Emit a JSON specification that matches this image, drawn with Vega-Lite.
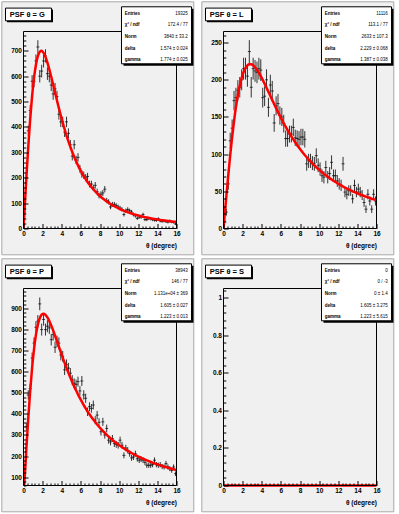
{
"$schema":"https://vega.github.io/schema/vega-lite/v6.json",
"background":"#ffffff",
"padding":{"left":0.5,"top":0.5,"right":0,"bottom":0},
"columns":2,
"spacing":{"row":60,"column":47},
"bounds":"flush",
"config":{
 "view":{"stroke":"#000","strokeWidth":1},
 "font":"Liberation Sans",
 "axis":{"domain":false,"grid":false,"labelFont":"Liberation Sans","labelFontWeight":"bold","labelFontSize":6.5,"labelColor":"#000","tickColor":"#000","tickWidth":1,"titleFont":"Liberation Sans","titleFontWeight":"bold","titleFontSize":6.5,"titleColor":"#000","labelOverlap":false,"labelFlush":false,"labelBound":false,"zindex":1}
},
"datasets":{
"stats":[
{"p":"G","title":"PSF θ = G","keys":"Entries\nχ² / ndf\nNorm\ndelta\ngamma","vals":"19325\n172.4 / 77\n3840 ± 33.2\n1.574 ± 0.024\n1.774 ± 0.025"},
{"p":"L","title":"PSF θ = L","keys":"Entries\nχ² / ndf\nNorm\ndelta\ngamma","vals":"11116\n113.1 / 77\n2633 ± 107.3\n2.229 ± 0.068\n1.387 ± 0.038"},
{"p":"P","title":"PSF θ = P","keys":"Entries\nχ² / ndf\nNorm\ndelta\ngamma","vals":"38943\n146 / 77\n1.131e+04 ± 369\n1.605 ± 0.027\n1.223 ± 0.013"},
{"p":"S","title":"PSF θ = S","keys":"Entries\nχ² / ndf\nNorm\ndelta\ngamma","vals":"0\n0 / -3\n0 ± 1.4\n1.605 ± 3.275\n1.223 ± 5.615"}
],
"G":[
{"t":0,"f":0},
{"t":0.1,"n":65,"e":8.1,"f":67.7},{"t":0.3,"n":200,"e":14.1,"f":199.8},{"t":0.5,"n":385,"e":19.6,"f":322.6},{"t":0.7,"n":465,"e":21.6,"f":431.1},{"t":0.9,"n":580,"e":24.1,"f":521.9},
{"t":1.1,"n":580,"e":24.1,"f":593.3},{"t":1.3,"n":660,"e":25.7,"f":645.2},{"t":1.5,"n":715,"e":26.7,"f":678.7},{"t":1.7,"n":600,"e":24.5,"f":696.1},{"t":1.9,"n":620,"e":24.9,"f":699.7},
{"t":2.1,"n":660,"e":25.7,"f":692.1},{"t":2.3,"n":680,"e":26.1,"f":676.1},{"t":2.5,"n":610,"e":24.7,"f":653.8},{"t":2.7,"n":600,"e":24.5,"f":627.0},{"t":2.9,"n":565,"e":23.8,"f":597.6},
{"t":3.1,"n":530,"e":23.0,"f":566.8},{"t":3.3,"n":550,"e":23.5,"f":535.5},{"t":3.5,"n":520,"e":22.8,"f":504.5},{"t":3.7,"n":450,"e":21.2,"f":474.3},{"t":3.9,"n":420,"e":20.5,"f":445.1},
{"t":4.1,"n":420,"e":20.5,"f":417.3},{"t":4.3,"n":380,"e":19.5,"f":391.0},{"t":4.5,"n":420,"e":20.5,"f":366.1},{"t":4.7,"n":375,"e":19.4,"f":343.0},{"t":4.9,"n":330,"e":18.2,"f":321.4},
{"t":5.1,"n":285,"e":16.9,"f":301.1},{"t":5.3,"n":330,"e":18.2,"f":282.3},{"t":5.5,"n":270,"e":16.4,"f":264.7},{"t":5.7,"n":280,"e":16.7,"f":248.5},{"t":5.9,"n":235,"e":15.3,"f":233.5},
{"t":6.1,"n":215,"e":14.7,"f":219.5},{"t":6.3,"n":210,"e":14.5,"f":206.5},{"t":6.5,"n":200,"e":14.1,"f":194.5},{"t":6.7,"n":205,"e":14.3,"f":183.4},{"t":6.9,"n":175,"e":13.2,"f":173.0},
{"t":7.1,"n":175,"e":13.2,"f":163.4},{"t":7.3,"n":160,"e":12.6,"f":154.4},{"t":7.5,"n":170,"e":13.0,"f":146.0},{"t":7.7,"n":145,"e":12.0,"f":138.2},{"t":7.9,"n":130,"e":11.4,"f":131.0},
{"t":8.1,"n":135,"e":11.6,"f":124.2},{"t":8.3,"n":140,"e":11.8,"f":117.9},{"t":8.5,"n":155,"e":12.4,"f":112.0},{"t":8.7,"n":110,"e":10.5,"f":106.5},{"t":8.9,"n":105,"e":10.2,"f":101.4},
{"t":9.1,"n":85,"e":9.2,"f":96.5},{"t":9.3,"n":95,"e":9.7,"f":91.9},{"t":9.5,"n":95,"e":9.7,"f":87.7},{"t":9.7,"n":90,"e":9.5,"f":83.7},{"t":9.9,"n":85,"e":9.2,"f":79.9},
{"t":10.1,"n":80,"e":8.9,"f":76.4},{"t":10.3,"n":75,"e":8.7,"f":73.1},{"t":10.5,"n":55,"e":7.4,"f":70.0},{"t":10.7,"n":70,"e":8.4,"f":67.0},{"t":10.9,"n":75,"e":8.7,"f":64.2},
{"t":11.1,"n":70,"e":8.4,"f":61.5},{"t":11.3,"n":65,"e":8.1,"f":59.1},{"t":11.5,"n":55,"e":7.4,"f":56.7},{"t":11.7,"n":50,"e":7.1,"f":54.5},{"t":11.9,"n":40,"e":6.3,"f":52.4},
{"t":12.1,"n":45,"e":6.7,"f":50.4},{"t":12.3,"n":45,"e":6.7,"f":48.5},{"t":12.5,"n":55,"e":7.4,"f":46.6},{"t":12.7,"n":35,"e":5.9,"f":44.9},{"t":12.9,"n":35,"e":5.9,"f":43.3},
{"t":13.1,"n":40,"e":6.3,"f":41.7},{"t":13.3,"n":38,"e":6.2,"f":40.2},{"t":13.5,"n":35,"e":5.9,"f":38.8},{"t":13.7,"n":33,"e":5.7,"f":37.5},{"t":13.9,"n":32,"e":5.7,"f":36.2},
{"t":14.1,"n":38,"e":6.2,"f":35.0},{"t":14.3,"n":30,"e":5.5,"f":33.8},{"t":14.5,"n":28,"e":5.3,"f":32.7},{"t":14.7,"n":30,"e":5.5,"f":31.7},{"t":14.9,"n":27,"e":5.2,"f":30.6},
{"t":15.1,"n":25,"e":5.0,"f":29.7},{"t":15.3,"n":30,"e":5.5,"f":28.7},{"t":15.5,"n":26,"e":5.1,"f":27.8},{"t":15.7,"n":24,"e":4.9,"f":27.0},{"t":15.9,"n":18,"e":4.2,"f":26.2},
{"t":16,"f":25.8}
],
"L":[
{"t":0,"f":0},
{"t":0.1,"n":10,"e":3.2,"f":14.7},{"t":0.3,"n":22,"e":4.7,"f":43.8},{"t":0.5,"n":60,"e":7.7,"f":71.9},{"t":0.7,"n":118,"e":10.9,"f":98.3},{"t":0.9,"n":135,"e":11.6,"f":122.6},
{"t":1.1,"n":172,"e":13.1,"f":144.3},{"t":1.3,"n":176,"e":13.3,"f":163.2},{"t":1.5,"n":186,"e":13.6,"f":179.3},{"t":1.7,"n":190,"e":13.8,"f":192.4},{"t":1.9,"n":200,"e":14.1,"f":202.8},
{"t":2.1,"n":215,"e":14.7,"f":210.6},{"t":2.3,"n":215,"e":14.7,"f":216.0},{"t":2.5,"n":205,"e":14.3,"f":219.4},{"t":2.7,"n":238,"e":15.4,"f":220.9},{"t":2.9,"n":190,"e":13.8,"f":220.8},
{"t":3.1,"n":215,"e":14.7,"f":219.4},{"t":3.3,"n":212,"e":14.6,"f":216.9},{"t":3.5,"n":210,"e":14.5,"f":213.6},{"t":3.7,"n":215,"e":14.7,"f":209.5},{"t":3.9,"n":213,"e":14.6,"f":204.9},
{"t":4.1,"n":176,"e":13.3,"f":200.0},{"t":4.3,"n":178,"e":13.3,"f":194.7},{"t":4.5,"n":200,"e":14.1,"f":189.3},{"t":4.7,"n":163,"e":12.8,"f":183.8},{"t":4.9,"n":193,"e":13.9,"f":178.3},
{"t":5.1,"n":185,"e":13.6,"f":172.7},{"t":5.3,"n":142,"e":11.9,"f":167.3},{"t":5.5,"n":165,"e":12.8,"f":161.9},{"t":5.7,"n":168,"e":13.0,"f":156.6},{"t":5.9,"n":152,"e":12.3,"f":151.5},
{"t":6.1,"n":150,"e":12.2,"f":146.5},{"t":6.3,"n":141,"e":11.9,"f":141.6},{"t":6.5,"n":121,"e":11.0,"f":137.0},{"t":6.7,"n":121,"e":11.0,"f":132.4},{"t":6.9,"n":127,"e":11.3,"f":128.1},
{"t":7.1,"n":127,"e":11.3,"f":123.9},{"t":7.3,"n":136,"e":11.7,"f":119.8},{"t":7.5,"n":122,"e":11.0,"f":116.0},{"t":7.7,"n":121,"e":11.0,"f":112.3},{"t":7.9,"n":120,"e":11.0,"f":108.7},
{"t":8.1,"n":123,"e":11.1,"f":105.2},{"t":8.3,"n":123,"e":11.1,"f":102.0},{"t":8.5,"n":120,"e":11.0,"f":98.8},{"t":8.7,"n":87,"e":9.3,"f":95.8},{"t":8.9,"n":91,"e":9.5,"f":92.9},
{"t":9.1,"n":91,"e":9.5,"f":90.1},{"t":9.3,"n":88,"e":9.4,"f":87.4},{"t":9.5,"n":87,"e":9.3,"f":84.8},{"t":9.7,"n":98,"e":9.9,"f":82.4},{"t":9.9,"n":85,"e":9.2,"f":80.0},
{"t":10.1,"n":80,"e":8.9,"f":77.8},{"t":10.3,"n":71,"e":8.4,"f":75.6},{"t":10.5,"n":69,"e":8.3,"f":73.5},{"t":10.7,"n":82,"e":9.1,"f":71.5},{"t":10.9,"n":69,"e":8.3,"f":69.5},
{"t":11.1,"n":74,"e":8.6,"f":67.7},{"t":11.3,"n":89,"e":9.4,"f":65.9},{"t":11.5,"n":71,"e":8.4,"f":64.2},{"t":11.7,"n":71,"e":8.4,"f":62.5},{"t":11.9,"n":64,"e":8.0,"f":60.9},
{"t":12.1,"n":60,"e":7.7,"f":59.4},{"t":12.3,"n":58,"e":7.6,"f":57.9},{"t":12.5,"n":87,"e":9.3,"f":56.5},{"t":12.7,"n":49,"e":7.0,"f":55.1},{"t":12.9,"n":46,"e":6.8,"f":53.8},
{"t":13.1,"n":51,"e":7.1,"f":52.5},{"t":13.3,"n":51,"e":7.1,"f":51.3},{"t":13.5,"n":40,"e":6.3,"f":50.1},{"t":13.7,"n":58,"e":7.6,"f":48.9},{"t":13.9,"n":49,"e":7.0,"f":47.8},
{"t":14.1,"n":53,"e":7.3,"f":46.7},{"t":14.3,"n":49,"e":7.0,"f":45.7},{"t":14.5,"n":45,"e":6.7,"f":44.7},{"t":14.7,"n":35,"e":5.9,"f":43.7},{"t":14.9,"n":26,"e":5.1,"f":42.8},
{"t":15.1,"n":46,"e":6.8,"f":41.9},{"t":15.3,"n":37,"e":6.1,"f":41.0},{"t":15.5,"n":26,"e":5.1,"f":40.1},{"t":15.7,"n":46,"e":6.8,"f":39.3},{"t":15.9,"n":37,"e":6.1,"f":38.5},
{"t":16,"f":38.1}
],
"P":[
{"t":0,"f":0},
{"t":0.1,"n":120,"e":11.0,"f":79.6},{"t":0.3,"n":340,"e":18.4,"f":235.0},{"t":0.5,"n":490,"e":22.1,"f":380.1},{"t":0.7,"n":520,"e":22.8,"f":509.2},{"t":0.9,"n":665,"e":25.8,"f":618.8},
{"t":1.1,"n":736,"e":27.1,"f":707.4},{"t":1.3,"n":811,"e":28.5,"f":775.1},{"t":1.5,"n":840,"e":29.0,"f":823.1},{"t":1.7,"n":922,"e":30.4,"f":854.1},{"t":1.9,"n":800,"e":28.3,"f":870.5},
{"t":2.1,"n":848,"e":29.1,"f":875.0},{"t":2.3,"n":800,"e":28.3,"f":870.1},{"t":2.5,"n":816,"e":28.6,"f":858.0},{"t":2.7,"n":808,"e":28.4,"f":840.7},{"t":2.9,"n":752,"e":27.4,"f":819.6},
{"t":3.1,"n":776,"e":27.9,"f":796.1},{"t":3.3,"n":716,"e":26.8,"f":770.9},{"t":3.5,"n":744,"e":27.3,"f":744.9},{"t":3.7,"n":736,"e":27.1,"f":718.7},{"t":3.9,"n":680,"e":26.1,"f":692.6},
{"t":4.1,"n":673,"e":25.9,"f":667.0},{"t":4.3,"n":609,"e":24.7,"f":642.0},{"t":4.5,"n":633,"e":25.2,"f":617.8},{"t":4.7,"n":617,"e":24.8,"f":594.4},{"t":4.9,"n":593,"e":24.4,"f":572.1},
{"t":5.1,"n":560,"e":23.7,"f":550.6},{"t":5.3,"n":545,"e":23.3,"f":530.2},{"t":5.5,"n":540,"e":23.2,"f":510.7},{"t":5.7,"n":553,"e":23.5,"f":492.2},{"t":5.9,"n":509,"e":22.6,"f":474.5},
{"t":6.1,"n":556,"e":23.6,"f":457.7},{"t":6.3,"n":490,"e":22.1,"f":441.7},{"t":6.5,"n":474,"e":21.8,"f":426.5},{"t":6.7,"n":410,"e":20.2,"f":412.1},{"t":6.9,"n":434,"e":20.8,"f":398.4},
{"t":7.1,"n":426,"e":20.6,"f":385.3},{"t":7.3,"n":442,"e":21.0,"f":372.9},{"t":7.5,"n":370,"e":19.2,"f":361.0},{"t":7.7,"n":394,"e":19.8,"f":349.7},{"t":7.9,"n":360,"e":19.0,"f":339.0},
{"t":8.1,"n":315,"e":17.7,"f":328.7},{"t":8.3,"n":362,"e":19.0,"f":319.0},{"t":8.5,"n":300,"e":17.3,"f":309.7},{"t":8.7,"n":331,"e":18.2,"f":300.7},{"t":8.9,"n":275,"e":16.6,"f":292.2},
{"t":9.1,"n":267,"e":16.3,"f":284.1},{"t":9.3,"n":283,"e":16.8,"f":276.3},{"t":9.5,"n":259,"e":16.1,"f":268.9},{"t":9.7,"n":255,"e":16.0,"f":261.8},{"t":9.9,"n":251,"e":15.8,"f":254.9},
{"t":10.1,"n":275,"e":16.6,"f":248.4},{"t":10.3,"n":251,"e":15.8,"f":242.2},{"t":10.5,"n":203,"e":14.2,"f":236.1},{"t":10.7,"n":238,"e":15.4,"f":230.3},{"t":10.9,"n":227,"e":15.1,"f":224.7},
{"t":11.1,"n":211,"e":14.5,"f":219.4},{"t":11.3,"n":191,"e":13.8,"f":214.2},{"t":11.5,"n":195,"e":14.0,"f":209.3},{"t":11.7,"n":211,"e":14.5,"f":204.5},{"t":11.9,"n":187,"e":13.7,"f":200.0},
{"t":12.1,"n":180,"e":13.4,"f":195.5},{"t":12.3,"n":185,"e":13.6,"f":191.2},{"t":12.5,"n":180,"e":13.4,"f":187.1},{"t":12.7,"n":170,"e":13.0,"f":183.2},{"t":12.9,"n":156,"e":12.5,"f":179.3},
{"t":13.1,"n":156,"e":12.5,"f":175.6},{"t":13.3,"n":156,"e":12.5,"f":172.0},{"t":13.5,"n":159,"e":12.6,"f":168.5},{"t":13.7,"n":180,"e":13.4,"f":165.2},{"t":13.9,"n":159,"e":12.6,"f":162.0},
{"t":14.1,"n":156,"e":12.5,"f":158.8},{"t":14.3,"n":159,"e":12.6,"f":155.7},{"t":14.5,"n":150,"e":12.2,"f":152.8},{"t":14.7,"n":148,"e":12.2,"f":150.0},{"t":14.9,"n":164,"e":12.8,"f":147.2},
{"t":15.1,"n":148,"e":12.2,"f":144.6},{"t":15.3,"n":140,"e":11.8,"f":142.0},{"t":15.5,"n":132,"e":11.5,"f":139.4},{"t":15.7,"n":148,"e":12.2,"f":136.9},{"t":15.9,"n":116,"e":10.8,"f":134.6},
{"t":16,"f":133.4}
],
"S":[{"t":0,"f":0},{"t":16,"f":0}]
},
"concat":[
{"width":153,"height":197,"resolve":{"scale":{"x":"independent","y":"independent"}},
 "layer":[
  {"data":{"name":"stats"},"transform":[{"filter":"datum.p == 'G'"}],"mark":{"type":"rect","fill":"#f0f0f0","stroke":"#a8a8a8","strokeWidth":1},"encoding":{"x":{"datum":-0.1418,"type":"quantitative","scale":{"domain":[0,1],"nice":false},"axis":null},"x2":{"datum":1.113},"y":{"datum":1.1508,"type":"quantitative","scale":{"domain":[0,1],"nice":false},"axis":null},"y2":{"datum":-0.1335}}},
  {"data":{"name":"G"},"resolve":{"axis":{"x":"independent","y":"independent"}},"layer":[
   {"transform":[{"filter":"isValid(datum.n)"}],"mark":{"type":"errorbar","color":"#333","thickness":1},
    "encoding":{"x":{"field":"t","type":"quantitative","axis":null},"y":{"field":"n","type":"quantitative","axis":null},"yError":{"field":"e"}}},
   {"transform":[{"filter":"isValid(datum.n)"}],"mark":{"type":"tick","orient":"horizontal","color":"#000","size":3,"thickness":1},
    "encoding":{"x":{"field":"t","type":"quantitative","axis":null},"y":{"field":"n","type":"quantitative","axis":null}}},
   {"mark":{"type":"line","color":"#ff0000","strokeWidth":2.5,"clip":true,"interpolate":"monotone"},
    "encoding":{
     "x":{"field":"t","type":"quantitative","scale":{"domain":[0,16],"nice":false},"axis":{"zindex":1,"orient":"bottom","title":"θ (degree)","titleAnchor":"end","titlePadding":3,"labelPadding":7,"labelOverlap":false,"values":[0,0.4,0.8,1.2,1.6,2,2.4,2.8,3.2,3.6,4,4.4,4.8,5.2,5.6,6,6.4,6.8,7.2,7.6,8,8.4,8.8,9.2,9.6,10,10.4,10.8,11.2,11.6,12,12.4,12.8,13.2,13.6,14,14.4,14.8,15.2,15.6,16],"labelExpr":"datum.value % 2 == 0 ? format(datum.value, '~g') : ''","tickSize":{"condition":{"test":"datum.value % 2 == 0","value":-5},"value":-2.5}}},
     "y":{"field":"f","type":"quantitative","scale":{"domain":[0,776],"nice":false,"zero":false},"axis":{"zindex":1,"orient":"left","title":null,"labelPadding":6.5,"labelOverlap":false,"values":[0,20,40,60,80,100,120,140,160,180,200,220,240,260,280,300,320,340,360,380,400,420,440,460,480,500,520,540,560,580,600,620,640,660,680,700,720,740,760],"labelExpr":"datum.value % 100 == 0 ? format(datum.value, '~g') : ''","tickSize":{"condition":{"test":"datum.value % 100 == 0","value":-4.5},"value":-2.3}}}}}
  ]},
  {"data":{"name":"stats"},"transform":[{"filter":"datum.p == 'G'"}],"layer":[
   {"mark":{"type":"rect","filled":false,"stroke":"#000","strokeWidth":1},"encoding":{"x":{"datum":0,"type":"quantitative","scale":{"domain":[0,1],"nice":false},"axis":null},"x2":{"datum":1},"y":{"datum":0,"type":"quantitative","scale":{"domain":[0,1],"nice":false},"axis":null},"y2":{"datum":1}}},
   {"mark":{"type":"rect","fill":"#000","xOffset":1.5,"x2Offset":1.5,"yOffset":1.5,"y2Offset":1.5},"encoding":{"x":{"datum":-0.1176,"type":"quantitative"},"x2":{"datum":0.183},"y":{"datum":1.1188,"type":"quantitative"},"y2":{"datum":1.0543}}},
   {"mark":{"type":"rect","fill":"#fff","stroke":"#000","strokeWidth":1},"encoding":{"x":{"datum":-0.1176,"type":"quantitative"},"x2":{"datum":0.183},"y":{"datum":1.1188,"type":"quantitative"},"y2":{"datum":1.0543}}},
   {"mark":{"type":"text","align":"left","baseline":"middle","fontSize":7.5,"fontWeight":"bold","font":"Liberation Sans","color":"#000"},"encoding":{"x":{"datum":-0.0895,"type":"quantitative"},"y":{"datum":1.0848,"type":"quantitative"},"text":{"field":"title"}}},
   {"mark":{"type":"rect","fill":"#000","xOffset":2,"x2Offset":2,"yOffset":2,"y2Offset":2},"encoding":{"x":{"datum":0.6405,"type":"quantitative"},"x2":{"datum":1.098},"y":{"datum":1.1254,"type":"quantitative"},"y2":{"datum":0.836}}},
   {"mark":{"type":"rect","fill":"#fff","stroke":"#000","strokeWidth":1},"encoding":{"x":{"datum":0.6405,"type":"quantitative"},"x2":{"datum":1.098},"y":{"datum":1.1254,"type":"quantitative"},"y2":{"datum":0.836}}},
   {"mark":{"type":"text","align":"left","baseline":"top","fontSize":4.5,"fontWeight":"bold","font":"Liberation Sans","lineBreak":"\n","lineHeight":11.6,"color":"#000"},"encoding":{"x":{"datum":0.662,"type":"quantitative"},"y":{"datum":1.105,"type":"quantitative"},"text":{"field":"keys"}}},
   {"mark":{"type":"text","align":"right","baseline":"top","fontSize":4.5,"font":"Liberation Sans","lineBreak":"\n","lineHeight":11.6,"color":"#000"},"encoding":{"x":{"datum":1.074,"type":"quantitative"},"y":{"datum":1.105,"type":"quantitative"},"text":{"field":"vals"}}}
  ]}
 ]},
{"width":153,"height":197,"resolve":{"scale":{"x":"independent","y":"independent"}},
 "layer":[
  {"data":{"name":"stats"},"transform":[{"filter":"datum.p == 'L'"}],"mark":{"type":"rect","fill":"#f0f0f0","stroke":"#a8a8a8","strokeWidth":1},"encoding":{"x":{"datum":-0.1418,"type":"quantitative","scale":{"domain":[0,1],"nice":false},"axis":null},"x2":{"datum":1.113},"y":{"datum":1.1508,"type":"quantitative","scale":{"domain":[0,1],"nice":false},"axis":null},"y2":{"datum":-0.1335}}},
  {"data":{"name":"L"},"resolve":{"axis":{"x":"independent","y":"independent"}},"layer":[
   {"transform":[{"filter":"isValid(datum.n)"}],"mark":{"type":"errorbar","color":"#333","thickness":1},
    "encoding":{"x":{"field":"t","type":"quantitative","axis":null},"y":{"field":"n","type":"quantitative","axis":null},"yError":{"field":"e"}}},
   {"transform":[{"filter":"isValid(datum.n)"}],"mark":{"type":"tick","orient":"horizontal","color":"#000","size":3,"thickness":1},
    "encoding":{"x":{"field":"t","type":"quantitative","axis":null},"y":{"field":"n","type":"quantitative","axis":null}}},
   {"mark":{"type":"line","color":"#ff0000","strokeWidth":2.5,"clip":true,"interpolate":"monotone"},
    "encoding":{
     "x":{"field":"t","type":"quantitative","scale":{"domain":[0,16],"nice":false},"axis":{"zindex":1,"orient":"bottom","title":"θ (degree)","titleAnchor":"end","titlePadding":3,"labelPadding":7,"labelOverlap":false,"values":[0,0.4,0.8,1.2,1.6,2,2.4,2.8,3.2,3.6,4,4.4,4.8,5.2,5.6,6,6.4,6.8,7.2,7.6,8,8.4,8.8,9.2,9.6,10,10.4,10.8,11.2,11.6,12,12.4,12.8,13.2,13.6,14,14.4,14.8,15.2,15.6,16],"labelExpr":"datum.value % 2 == 0 ? format(datum.value, '~g') : ''","tickSize":{"condition":{"test":"datum.value % 2 == 0","value":-5},"value":-2.5}}},
     "y":{"field":"f","type":"quantitative","scale":{"domain":[0,265],"nice":false,"zero":false},"axis":{"zindex":1,"orient":"left","title":null,"labelPadding":6.5,"labelOverlap":false,"values":[0,10,20,30,40,50,60,70,80,90,100,110,120,130,140,150,160,170,180,190,200,210,220,230,240,250,260],"labelExpr":"datum.value % 50 == 0 ? format(datum.value, '~g') : ''","tickSize":{"condition":{"test":"datum.value % 50 == 0","value":-4.5},"value":-2.3}}}}}
  ]},
  {"data":{"name":"stats"},"transform":[{"filter":"datum.p == 'L'"}],"layer":[
   {"mark":{"type":"rect","filled":false,"stroke":"#000","strokeWidth":1},"encoding":{"x":{"datum":0,"type":"quantitative","scale":{"domain":[0,1],"nice":false},"axis":null},"x2":{"datum":1},"y":{"datum":0,"type":"quantitative","scale":{"domain":[0,1],"nice":false},"axis":null},"y2":{"datum":1}}},
   {"mark":{"type":"rect","fill":"#000","xOffset":1.5,"x2Offset":1.5,"yOffset":1.5,"y2Offset":1.5},"encoding":{"x":{"datum":-0.1176,"type":"quantitative"},"x2":{"datum":0.183},"y":{"datum":1.1188,"type":"quantitative"},"y2":{"datum":1.0543}}},
   {"mark":{"type":"rect","fill":"#fff","stroke":"#000","strokeWidth":1},"encoding":{"x":{"datum":-0.1176,"type":"quantitative"},"x2":{"datum":0.183},"y":{"datum":1.1188,"type":"quantitative"},"y2":{"datum":1.0543}}},
   {"mark":{"type":"text","align":"left","baseline":"middle","fontSize":7.5,"fontWeight":"bold","font":"Liberation Sans","color":"#000"},"encoding":{"x":{"datum":-0.0895,"type":"quantitative"},"y":{"datum":1.0848,"type":"quantitative"},"text":{"field":"title"}}},
   {"mark":{"type":"rect","fill":"#000","xOffset":2,"x2Offset":2,"yOffset":2,"y2Offset":2},"encoding":{"x":{"datum":0.6405,"type":"quantitative"},"x2":{"datum":1.098},"y":{"datum":1.1254,"type":"quantitative"},"y2":{"datum":0.836}}},
   {"mark":{"type":"rect","fill":"#fff","stroke":"#000","strokeWidth":1},"encoding":{"x":{"datum":0.6405,"type":"quantitative"},"x2":{"datum":1.098},"y":{"datum":1.1254,"type":"quantitative"},"y2":{"datum":0.836}}},
   {"mark":{"type":"text","align":"left","baseline":"top","fontSize":4.5,"fontWeight":"bold","font":"Liberation Sans","lineBreak":"\n","lineHeight":11.6,"color":"#000"},"encoding":{"x":{"datum":0.662,"type":"quantitative"},"y":{"datum":1.105,"type":"quantitative"},"text":{"field":"keys"}}},
   {"mark":{"type":"text","align":"right","baseline":"top","fontSize":4.5,"font":"Liberation Sans","lineBreak":"\n","lineHeight":11.6,"color":"#000"},"encoding":{"x":{"datum":1.074,"type":"quantitative"},"y":{"datum":1.105,"type":"quantitative"},"text":{"field":"vals"}}}
  ]}
 ]},
{"width":153,"height":197,"resolve":{"scale":{"x":"independent","y":"independent"}},
 "layer":[
  {"data":{"name":"stats"},"transform":[{"filter":"datum.p == 'P'"}],"mark":{"type":"rect","fill":"#f0f0f0","stroke":"#a8a8a8","strokeWidth":1},"encoding":{"x":{"datum":-0.1418,"type":"quantitative","scale":{"domain":[0,1],"nice":false},"axis":null},"x2":{"datum":1.113},"y":{"datum":1.1508,"type":"quantitative","scale":{"domain":[0,1],"nice":false},"axis":null},"y2":{"datum":-0.1335}}},
  {"data":{"name":"P"},"resolve":{"axis":{"x":"independent","y":"independent"}},"layer":[
   {"transform":[{"filter":"isValid(datum.n)"}],"mark":{"type":"errorbar","color":"#333","thickness":1},
    "encoding":{"x":{"field":"t","type":"quantitative","axis":null},"y":{"field":"n","type":"quantitative","axis":null},"yError":{"field":"e"}}},
   {"transform":[{"filter":"isValid(datum.n)"}],"mark":{"type":"tick","orient":"horizontal","color":"#000","size":3,"thickness":1},
    "encoding":{"x":{"field":"t","type":"quantitative","axis":null},"y":{"field":"n","type":"quantitative","axis":null}}},
   {"mark":{"type":"line","color":"#ff0000","strokeWidth":2.5,"clip":true,"interpolate":"monotone"},
    "encoding":{
     "x":{"field":"t","type":"quantitative","scale":{"domain":[0,16],"nice":false},"axis":{"zindex":1,"orient":"bottom","title":"θ (degree)","titleAnchor":"end","titlePadding":3,"labelPadding":7,"labelOverlap":false,"values":[0,0.4,0.8,1.2,1.6,2,2.4,2.8,3.2,3.6,4,4.4,4.8,5.2,5.6,6,6.4,6.8,7.2,7.6,8,8.4,8.8,9.2,9.6,10,10.4,10.8,11.2,11.6,12,12.4,12.8,13.2,13.6,14,14.4,14.8,15.2,15.6,16],"labelExpr":"datum.value % 2 == 0 ? format(datum.value, '~g') : ''","tickSize":{"condition":{"test":"datum.value % 2 == 0","value":-5},"value":-2.5}}},
     "y":{"field":"f","type":"quantitative","scale":{"domain":[60,995],"nice":false,"zero":false},"axis":{"zindex":1,"orient":"left","title":null,"labelPadding":6.5,"labelOverlap":false,"values":[60,80,100,120,140,160,180,200,220,240,260,280,300,320,340,360,380,400,420,440,460,480,500,520,540,560,580,600,620,640,660,680,700,720,740,760,780,800,820,840,860,880,900,920,940,960,980],"labelExpr":"datum.value % 100 == 0 ? format(datum.value, '~g') : ''","tickSize":{"condition":{"test":"datum.value % 100 == 0","value":-4.5},"value":-2.3}}}}}
  ]},
  {"data":{"name":"stats"},"transform":[{"filter":"datum.p == 'P'"}],"layer":[
   {"mark":{"type":"rect","filled":false,"stroke":"#000","strokeWidth":1},"encoding":{"x":{"datum":0,"type":"quantitative","scale":{"domain":[0,1],"nice":false},"axis":null},"x2":{"datum":1},"y":{"datum":0,"type":"quantitative","scale":{"domain":[0,1],"nice":false},"axis":null},"y2":{"datum":1}}},
   {"mark":{"type":"rect","fill":"#000","xOffset":1.5,"x2Offset":1.5,"yOffset":1.5,"y2Offset":1.5},"encoding":{"x":{"datum":-0.1176,"type":"quantitative"},"x2":{"datum":0.183},"y":{"datum":1.1188,"type":"quantitative"},"y2":{"datum":1.0543}}},
   {"mark":{"type":"rect","fill":"#fff","stroke":"#000","strokeWidth":1},"encoding":{"x":{"datum":-0.1176,"type":"quantitative"},"x2":{"datum":0.183},"y":{"datum":1.1188,"type":"quantitative"},"y2":{"datum":1.0543}}},
   {"mark":{"type":"text","align":"left","baseline":"middle","fontSize":7.5,"fontWeight":"bold","font":"Liberation Sans","color":"#000"},"encoding":{"x":{"datum":-0.0895,"type":"quantitative"},"y":{"datum":1.0848,"type":"quantitative"},"text":{"field":"title"}}},
   {"mark":{"type":"rect","fill":"#000","xOffset":2,"x2Offset":2,"yOffset":2,"y2Offset":2},"encoding":{"x":{"datum":0.6405,"type":"quantitative"},"x2":{"datum":1.098},"y":{"datum":1.1254,"type":"quantitative"},"y2":{"datum":0.836}}},
   {"mark":{"type":"rect","fill":"#fff","stroke":"#000","strokeWidth":1},"encoding":{"x":{"datum":0.6405,"type":"quantitative"},"x2":{"datum":1.098},"y":{"datum":1.1254,"type":"quantitative"},"y2":{"datum":0.836}}},
   {"mark":{"type":"text","align":"left","baseline":"top","fontSize":4.5,"fontWeight":"bold","font":"Liberation Sans","lineBreak":"\n","lineHeight":11.6,"color":"#000"},"encoding":{"x":{"datum":0.662,"type":"quantitative"},"y":{"datum":1.105,"type":"quantitative"},"text":{"field":"keys"}}},
   {"mark":{"type":"text","align":"right","baseline":"top","fontSize":4.5,"font":"Liberation Sans","lineBreak":"\n","lineHeight":11.6,"color":"#000"},"encoding":{"x":{"datum":1.074,"type":"quantitative"},"y":{"datum":1.105,"type":"quantitative"},"text":{"field":"vals"}}}
  ]}
 ]},
{"width":153,"height":197,"resolve":{"scale":{"x":"independent","y":"independent"}},
 "layer":[
  {"data":{"name":"stats"},"transform":[{"filter":"datum.p == 'S'"}],"mark":{"type":"rect","fill":"#f0f0f0","stroke":"#a8a8a8","strokeWidth":1},"encoding":{"x":{"datum":-0.1418,"type":"quantitative","scale":{"domain":[0,1],"nice":false},"axis":null},"x2":{"datum":1.113},"y":{"datum":1.1508,"type":"quantitative","scale":{"domain":[0,1],"nice":false},"axis":null},"y2":{"datum":-0.1335}}},
  {"data":{"name":"S"},"layer":[
   {"mark":{"type":"line","color":"#ff0000","strokeWidth":2.5,"clip":false},
    "encoding":{
     "x":{"field":"t","type":"quantitative","scale":{"domain":[0,16],"nice":false},"axis":{"zindex":1,"orient":"bottom","title":"θ (degree)","titleAnchor":"end","titlePadding":3,"labelPadding":7,"labelOverlap":false,"values":[0,0.4,0.8,1.2,1.6,2,2.4,2.8,3.2,3.6,4,4.4,4.8,5.2,5.6,6,6.4,6.8,7.2,7.6,8,8.4,8.8,9.2,9.6,10,10.4,10.8,11.2,11.6,12,12.4,12.8,13.2,13.6,14,14.4,14.8,15.2,15.6,16],"labelExpr":"datum.value % 2 == 0 ? format(datum.value, '~g') : ''","tickSize":{"condition":{"test":"datum.value % 2 == 0","value":-5},"value":-2.5}}},
     "y":{"field":"f","type":"quantitative","scale":{"domain":[0,1.05],"nice":false,"zero":false},"axis":{"zindex":1,"orient":"left","title":null,"labelPadding":6.5,"labelOverlap":false,"values":[0,0.04,0.08,0.12,0.16,0.2,0.24,0.28,0.32,0.36,0.4,0.44,0.48,0.52,0.56,0.6,0.64,0.68,0.72,0.76,0.8,0.84,0.88,0.92,0.96,1,1.04],"labelExpr":"abs(datum.value*5 - round(datum.value*5)) < 0.001 ? format(datum.value, '~g') : ''","tickSize":{"condition":{"test":"abs(datum.value*5 - round(datum.value*5)) < 0.001","value":-4.5},"value":-2.3}}}}}
  ]},
  {"data":{"name":"stats"},"transform":[{"filter":"datum.p == 'S'"}],"layer":[
   {"mark":{"type":"rect","filled":false,"stroke":"#000","strokeWidth":1},"encoding":{"x":{"datum":0,"type":"quantitative","scale":{"domain":[0,1],"nice":false},"axis":null},"x2":{"datum":1},"y":{"datum":0,"type":"quantitative","scale":{"domain":[0,1],"nice":false},"axis":null},"y2":{"datum":1}}},
   {"mark":{"type":"rect","fill":"#000","xOffset":1.5,"x2Offset":1.5,"yOffset":1.5,"y2Offset":1.5},"encoding":{"x":{"datum":-0.1176,"type":"quantitative"},"x2":{"datum":0.183},"y":{"datum":1.1188,"type":"quantitative"},"y2":{"datum":1.0543}}},
   {"mark":{"type":"rect","fill":"#fff","stroke":"#000","strokeWidth":1},"encoding":{"x":{"datum":-0.1176,"type":"quantitative"},"x2":{"datum":0.183},"y":{"datum":1.1188,"type":"quantitative"},"y2":{"datum":1.0543}}},
   {"mark":{"type":"text","align":"left","baseline":"middle","fontSize":7.5,"fontWeight":"bold","font":"Liberation Sans","color":"#000"},"encoding":{"x":{"datum":-0.0895,"type":"quantitative"},"y":{"datum":1.0848,"type":"quantitative"},"text":{"field":"title"}}},
   {"mark":{"type":"rect","fill":"#000","xOffset":2,"x2Offset":2,"yOffset":2,"y2Offset":2},"encoding":{"x":{"datum":0.6405,"type":"quantitative"},"x2":{"datum":1.098},"y":{"datum":1.1254,"type":"quantitative"},"y2":{"datum":0.836}}},
   {"mark":{"type":"rect","fill":"#fff","stroke":"#000","strokeWidth":1},"encoding":{"x":{"datum":0.6405,"type":"quantitative"},"x2":{"datum":1.098},"y":{"datum":1.1254,"type":"quantitative"},"y2":{"datum":0.836}}},
   {"mark":{"type":"text","align":"left","baseline":"top","fontSize":4.5,"fontWeight":"bold","font":"Liberation Sans","lineBreak":"\n","lineHeight":11.6,"color":"#000"},"encoding":{"x":{"datum":0.662,"type":"quantitative"},"y":{"datum":1.105,"type":"quantitative"},"text":{"field":"keys"}}},
   {"mark":{"type":"text","align":"right","baseline":"top","fontSize":4.5,"font":"Liberation Sans","lineBreak":"\n","lineHeight":11.6,"color":"#000"},"encoding":{"x":{"datum":1.074,"type":"quantitative"},"y":{"datum":1.105,"type":"quantitative"},"text":{"field":"vals"}}}
  ]}
 ]}
]
}
